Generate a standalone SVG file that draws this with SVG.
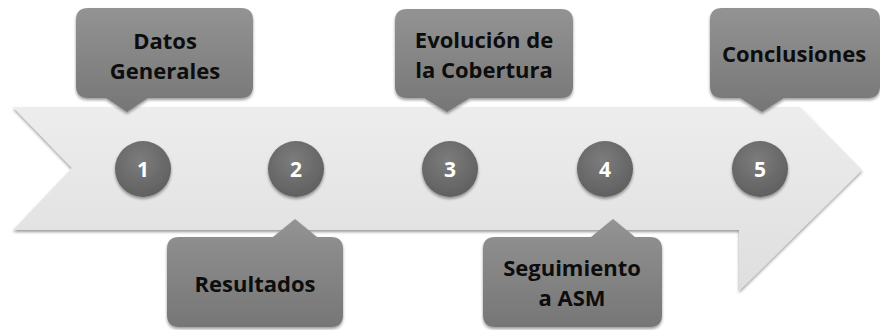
<svg xmlns="http://www.w3.org/2000/svg" width="880" height="330" viewBox="0 0 880 330">
  <style>
    .lbl { font-family: "Open Sans", "Noto Sans", "Liberation Sans", sans-serif; font-weight: 700; font-size: 22px; fill: #0d0d0d; text-anchor: middle; }
    .num { font-family: "Open Sans", "Noto Sans", "Liberation Sans", sans-serif; font-weight: 700; font-size: 21px; fill: #ffffff; text-anchor: middle; }
    .box { fill: url(#boxGrad); filter: url(#shadow); }
    .dot { fill: url(#dotGrad); filter: url(#shadow); }
  </style>
  <defs>
    <linearGradient id="boxGrad" x1="0" y1="0" x2="0" y2="1">
      <stop offset="0" stop-color="#939393"/>
      <stop offset="1" stop-color="#767676"/>
    </linearGradient>
    <linearGradient id="arrowGrad" x1="0" y1="0" x2="0" y2="1">
      <stop offset="0" stop-color="#ededed"/>
      <stop offset="1" stop-color="#dedede"/>
    </linearGradient>
    <radialGradient id="dotGrad" cx="0.45" cy="0.35" r="0.7">
      <stop offset="0" stop-color="#7c7c7c"/>
      <stop offset="1" stop-color="#5e5e5e"/>
    </radialGradient>
    <filter id="shadow" x="-20%" y="-20%" width="140%" height="150%">
      <feGaussianBlur in="SourceAlpha" stdDeviation="1.6"/>
      <feOffset dx="0" dy="2" result="b"/>
      <feComponentTransfer><feFuncA type="linear" slope="0.4"/></feComponentTransfer>
      <feMerge><feMergeNode/><feMergeNode in="SourceGraphic"/></feMerge>
    </filter>
  </defs>
  <rect width="880" height="330" fill="#ffffff"/>

  <g id="timeline">
    <path d="M13,107 L800,107 L862,170 L739,291 L739,230 L13,230 L72,168 Z" fill="url(#arrowGrad)" filter="url(#shadow)"/>
  </g>

  <g id="step1">
    <circle class="dot" cx="143" cy="169" r="28"/>
    <text class="num" x="143" y="176.5">1</text>
  </g>
  <g id="step2">
    <circle class="dot" cx="296" cy="169" r="28"/>
    <text class="num" x="296" y="176.5">2</text>
  </g>
  <g id="step3">
    <circle class="dot" cx="450" cy="169" r="28"/>
    <text class="num" x="450" y="176.5">3</text>
  </g>
  <g id="step4">
    <circle class="dot" cx="605" cy="169" r="28"/>
    <text class="num" x="605" y="176.5">4</text>
  </g>
  <g id="step5">
    <circle class="dot" cx="760" cy="169" r="28"/>
    <text class="num" x="760" y="176.5">5</text>
  </g>

  <g id="datos-generales">
    <path class="box" d="M88,8 H241 Q253,8 253,20 V86 Q253,98 241,98 H148 L127,112 L106,98 H88 Q76,98 76,86 V20 Q76,8 88,8 Z"/>
    <text class="lbl" x="165" y="49">Datos</text>
    <text class="lbl" x="165" y="79">Generales</text>
  </g>
  <g id="evolucion">
    <path class="box" d="M407,9 H561 Q573,9 573,21 V86 Q573,98 561,98 H470 L447,112 L424,98 H407 Q395,98 395,86 V21 Q395,9 407,9 Z"/>
    <text class="lbl" x="484" y="48">Evolución de</text>
    <text class="lbl" x="484" y="78">la Cobertura</text>
  </g>
  <g id="conclusiones">
    <path class="box" d="M722,8 H868 Q880,8 880,20 V86 Q880,98 868,98 H784 L762,112 L740,98 H722 Q710,98 710,86 V20 Q710,8 722,8 Z"/>
    <text class="lbl" x="794" y="62">Conclusiones</text>
  </g>
  <g id="resultados">
    <path class="box" d="M179,237 H273 L295,219 L317,237 H331 Q343,237 343,249 V315 Q343,327 331,327 H179 Q167,327 167,315 V249 Q167,237 179,237 Z"/>
    <text class="lbl" x="255" y="292">Resultados</text>
  </g>
  <g id="seguimiento">
    <path class="box" d="M495,237 H591 L613,219 L635,237 H650 Q662,237 662,249 V315 Q662,327 650,327 H495 Q483,327 483,315 V249 Q483,237 495,237 Z"/>
    <text class="lbl" x="572" y="276">Seguimiento</text>
    <text class="lbl" x="572" y="306">a ASM</text>
  </g>
</svg>
